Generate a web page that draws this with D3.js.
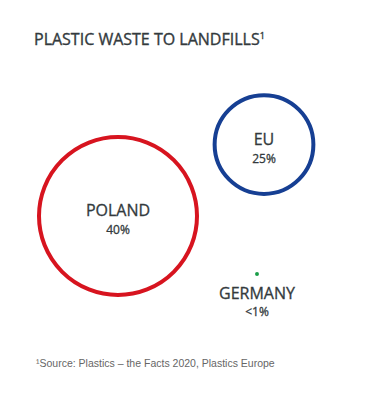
<!DOCTYPE html>
<html>
<head>
<meta charset="utf-8">
<script src="https://cdn.jsdelivr.net/npm/d3@7"></script>
<style>
  body { margin: 0; background: #fff; }
</style>
</head>
<body>
<div id="chart"></div>
<script>
// Plastic waste sent to landfills, share in %
const countries = ["POLAND", "EU", "GERMANY"];
const shares = [40, 25, 1];
const shareLabels = ["40%", "25%", "<1%"];
const colors = ["#d7141f", "#163f93", "#1a9e48"];

const width = 368, height = 400;
const ink = "#333a3d";

const svg = d3.select("#chart")
    .append("svg")
    .attr("width", width)
    .attr("height", height);

svg.append("text")
    .attr("x", 34)
    .attr("y", 45)
    .attr("fill", ink)
    .attr("stroke", ink)
    .attr("stroke-width", 0.35)
    .style("font-family", "'Open Sans', sans-serif")
    .style("font-size", "16px")
    .text("PLASTIC WASTE TO LANDFILLS")
    .append("tspan")
    .attr("dy", -6)
    .style("font-size", "9px")
    .text("1");

// radius grows with the share
const r = d3.scaleLinear().domain([0, 40]).range([0, 79]);

// bubble layout positions
const cx = d3.scaleOrdinal().domain(countries).range([118, 264, 257]);
const cy = d3.scaleOrdinal().domain(countries).range([216, 144.5, 274]);

const data = countries.map((c, i) => ({ name: c, value: shares[i], label: shareLabels[i], color: colors[i] }));

const g = svg.selectAll(".bubble")
    .data(data)
    .join("g")
    .attr("class", "bubble");

g.append("circle")
    .attr("cx", d => cx(d.name))
    .attr("cy", d => cy(d.name))
    .attr("r", d => r(d.value))
    .attr("fill", d => d.value < 2 ? d.color : "none")
    .attr("stroke", d => d.value < 2 ? "none" : d.color)
    .attr("stroke-width", 4);

// labels sit inside big bubbles, under the small one
g.append("text")
    .attr("x", d => cx(d.name))
    .attr("y", d => d.value < 2 ? cy(d.name) + 25 : cy(d.name))
    .attr("text-anchor", "middle")
    .attr("fill", ink)
    .attr("stroke", ink)
    .attr("stroke-width", 0.3)
    .style("font-family", "'Open Sans', sans-serif")
    .style("font-size", "16px")
    .text(d => d.name);

g.append("text")
    .attr("x", d => cx(d.name))
    .attr("y", d => d.value < 2 ? cy(d.name) + 42 : cy(d.name) + 18)
    .attr("text-anchor", "middle")
    .attr("fill", ink)
    .attr("stroke", ink)
    .attr("stroke-width", 0.3)
    .style("font-family", "'Open Sans', sans-serif")
    .style("font-size", "12px")
    .text(d => d.label);

svg.append("text")
    .attr("x", 36)
    .attr("y", 367)
    .attr("fill", "#666")
    .style("font-family", "'Liberation Sans', Arial, sans-serif")
    .style("font-size", "10.5px")
    .text("\u00b9Source: Plastics \u2013 the Facts 2020, Plastics Europe");
</script>
</body>
</html>
